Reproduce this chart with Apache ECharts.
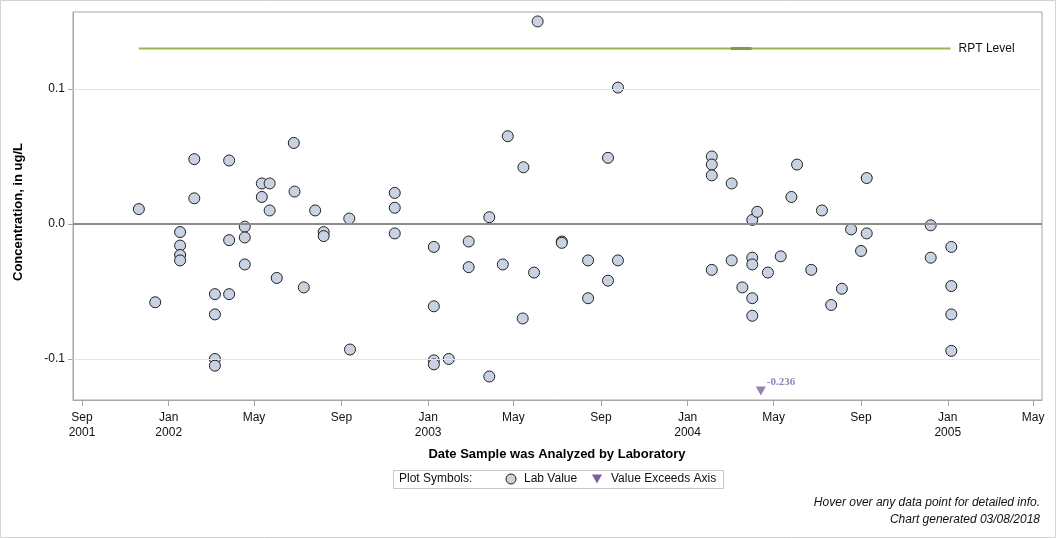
<!DOCTYPE html>
<html>
<head>
<meta charset="UTF-8">
<title>Lab Values</title>
<script src="https://cdn.jsdelivr.net/npm/echarts@6/dist/echarts.min.js"></script>
<style>
  html, body { margin: 0; padding: 0; background: #fff; }
  #chart { width: 1056px; height: 538px; }
</style>
</head>
<body>
<div id="chart"></div>
<script>
// sample dates and lab values (ug/L)
var labDates = [
  '2001-11-20', '2001-12-13',
  '2002-01-17', '2002-01-17', '2002-01-17', '2002-01-17',
  '2002-02-06', '2002-02-06',
  '2002-03-07', '2002-03-07', '2002-03-07', '2002-03-07',
  '2002-03-27', '2002-03-27', '2002-03-27',
  '2002-04-18', '2002-04-18', '2002-04-18',
  '2002-05-12', '2002-05-12', '2002-05-23', '2002-05-23',
  '2002-06-02', '2002-06-26', '2002-06-27', '2002-07-10', '2002-07-26',
  '2002-08-07', '2002-08-07', '2002-09-12', '2002-09-13',
  '2002-11-15', '2002-11-15', '2002-11-15',
  '2003-01-09', '2003-01-09', '2003-01-09', '2003-01-09', '2003-01-30',
  '2003-02-27', '2003-02-27', '2003-03-28', '2003-03-28',
  '2003-04-16', '2003-04-23', '2003-05-14', '2003-05-15', '2003-05-30',
  '2003-06-04', '2003-07-08', '2003-07-08', '2003-08-14', '2003-08-14',
  '2003-09-11', '2003-09-11', '2003-09-25', '2003-09-25',
  '2004-02-04', '2004-02-04', '2004-02-04', '2004-02-04',
  '2004-03-03', '2004-03-03', '2004-03-18',
  '2004-04-01', '2004-04-08', '2004-04-01', '2004-04-01', '2004-04-01', '2004-04-01',
  '2004-04-23', '2004-05-11', '2004-05-26', '2004-06-03', '2004-06-23',
  '2004-07-08', '2004-07-21', '2004-08-05', '2004-08-18', '2004-09-01',
  '2004-09-09', '2004-09-09', '2004-12-08', '2004-12-08',
  '2005-01-06', '2005-01-06', '2005-01-06', '2005-01-06'
];
var labValues = [
  0.011, -0.058,
  -0.006, -0.016, -0.023, -0.027,
  0.048, 0.019,
  -0.052, -0.067, -0.100, -0.105,
  0.047, -0.012, -0.052,
  -0.002, -0.010, -0.030,
  0.030, 0.020, 0.030, 0.010,
  -0.040, 0.060, 0.024, -0.047, 0.010,
  -0.006, -0.009, 0.004, -0.093,
  0.023, 0.012, -0.007,
  -0.017, -0.061, -0.101, -0.104, -0.100,
  -0.013, -0.032, 0.005, -0.113,
  -0.030, 0.065, -0.070, 0.042, -0.036,
  0.150, -0.013, -0.014, -0.027, -0.055,
  0.049, -0.042, 0.101, -0.027,
  0.050, 0.044, 0.036, -0.034,
  0.030, -0.027, -0.047,
  0.003, 0.009, -0.025, -0.030, -0.055, -0.068,
  -0.036, -0.024, 0.020, 0.044, -0.034,
  0.010, -0.060, -0.048, -0.004, -0.020,
  0.034, -0.007, -0.001, -0.025,
  -0.017, -0.046, -0.067, -0.094
];

// values below the axis
var exceedDates = ['2004-04-13'];
var exceedValues = [-0.236];

// reporting level
var rptDates = ['2001-11-20', '2005-01-05'];
var rptOverlapDates = ['2004-03-02', '2004-03-31'];
var rptValue = 0.13;

var xTickDates = ['2001-09-01', '2002-01-01', '2002-05-01', '2002-09-01', '2003-01-01', '2003-05-01',
  '2003-09-01', '2004-01-01', '2004-05-01', '2004-09-01', '2005-01-01', '2005-05-01'];
var yTicks = [-0.1, 0, 0.1];
var monthNames = ['Jan', 'Feb', 'Mar', 'Apr', 'May', 'Jun', 'Jul', 'Aug', 'Sep', 'Oct', 'Nov', 'Dec'];

var yMin = -0.1304, yMax = 0.1570;

function ts(s) { return Date.parse(s); }

var font = "'Liberation Sans', Arial, sans-serif";
var chart = echarts.init(document.getElementById('chart'));

var option = {
  animation: false,
  grid: { left: 73, right: 14, top: 12, bottom: 138, show: true, borderColor: '#a6a6a6', borderWidth: 1 },
  xAxis: {
    type: 'value',
    min: Date.UTC(2001, 7, 19, 8),
    max: Date.UTC(2005, 4, 13, 14),
    splitLine: { show: false },
    axisLine: { onZero: false, lineStyle: { color: '#a6a6a6' } },
    axisTick: { customValues: xTickDates.map(ts), length: 6, lineStyle: { color: '#a6a6a6' } },
    axisLabel: {
      customValues: xTickDates.map(ts),
      color: '#111', fontSize: 12, fontFamily: font, lineHeight: 15, margin: 10,
      formatter: function (v) {
        var d = new Date(v);
        var m = monthNames[d.getUTCMonth()];
        if (m === 'Jan' || v === ts(xTickDates[0])) return m + '\n' + d.getUTCFullYear();
        return m;
      }
    }
  },
  yAxis: {
    type: 'value',
    min: yMin,
    max: yMax,
    splitLine: { show: false },
    axisLine: { show: true, onZero: false, lineStyle: { color: '#a6a6a6' } },
    axisTick: { customValues: yTicks, length: 5, lineStyle: { color: '#a6a6a6' } },
    axisLabel: {
      customValues: yTicks, color: '#111', fontSize: 12, fontFamily: font, margin: 8,
      formatter: function (v) { return v.toFixed(1); }
    }
  },
  series: [
    {
      type: 'line',
      z: 1,
      silent: true,
      symbol: 'none',
      data: rptDates.map(function (d) { return [ts(d), rptValue]; }),
      lineStyle: { color: '#97b653', width: 2 },
      endLabel: { show: true, formatter: 'RPT Level', color: '#111', fontSize: 12, fontFamily: font, distance: 8 },
      markLine: {
        silent: true,
        symbol: 'none',
        label: { show: false },
        data: [
          { yAxis: 0.1, lineStyle: { color: '#e4e4e4', width: 1, type: 'solid' } },
          { yAxis: -0.1, lineStyle: { color: '#e4e4e4', width: 1, type: 'solid' } },
          { yAxis: 0, lineStyle: { color: '#8c8c8c', width: 2, type: 'solid' } }
        ]
      }
    },
    {
      type: 'line',
      z: 2,
      silent: true,
      symbol: 'none',
      data: rptOverlapDates.map(function (d) { return [ts(d), rptValue]; }),
      lineStyle: { color: '#7f9c42', width: 3 }
    },
    {
      name: 'Lab Value',
      type: 'scatter',
      z: 3,
      symbol: 'circle',
      symbolSize: 11,
      data: labDates.map(function (d, i) { return [ts(d), labValues[i]]; }),
      itemStyle: { color: '#c8d2e2', borderColor: '#1f1f1f', borderWidth: 1, opacity: 1 }
    },
    {
      name: 'Value Exceeds Axis',
      type: 'scatter',
      z: 4,
      symbol: 'triangle',
      symbolRotate: 180,
      symbolSize: [10, 9],
      data: exceedDates.map(function (d, i) { return [ts(d), yMin + 0.0067, exceedValues[i]]; }),
      itemStyle: { color: '#7b5fa6' },
      label: {
        show: true,
        position: [11, -4],
        align: 'left',
        verticalAlign: 'middle',
        formatter: function (p) { return p.value[2].toFixed(3); },
        color: '#7b5fa6',
        fontSize: 11,
        fontWeight: 'bold',
        fontFamily: "'Liberation Serif', 'Times New Roman', serif"
      }
    }
  ],
  graphic: [
    { type: 'rect', shape: { x: 0.5, y: 0.5, width: 1055, height: 537 }, style: { fill: 'none', stroke: '#d3d3d3', lineWidth: 1 }, silent: true },
    { type: 'text', x: 18, y: 212, rotation: Math.PI / 2,
      style: { text: 'Concentration, in ug/L', font: 'bold 13px ' + font, fill: '#000', textAlign: 'center', textVerticalAlign: 'middle' } },
    { type: 'text', x: 557, y: 454,
      style: { text: 'Date Sample was Analyzed by Laboratory', font: 'bold 13px ' + font, fill: '#000', textAlign: 'center', textVerticalAlign: 'middle' } },
    { type: 'rect', shape: { x: 393.5, y: 470.5, width: 330, height: 18 }, style: { fill: 'none', stroke: '#c8c8c8', lineWidth: 1 } },
    { type: 'text', x: 399, y: 479, style: { text: 'Plot Symbols:', font: '12px ' + font, fill: '#111', textVerticalAlign: 'middle' } },
    { type: 'circle', shape: { cx: 511, cy: 479, r: 5 }, style: { fill: '#c8d2e2', stroke: '#1f1f1f', lineWidth: 1 } },
    { type: 'text', x: 524, y: 479, style: { text: 'Lab Value', font: '12px ' + font, fill: '#111', textVerticalAlign: 'middle' } },
    { type: 'polygon', shape: { points: [[592, 474.5], [602, 474.5], [597, 483.5]] }, style: { fill: '#7b5fa6' } },
    { type: 'text', x: 611, y: 479, style: { text: 'Value Exceeds Axis', font: '12px ' + font, fill: '#111', textVerticalAlign: 'middle' } },
    { type: 'text', x: 1040, y: 503, style: { text: 'Hover over any data point for detailed info.', font: 'italic 12px ' + font, fill: '#111', textAlign: 'right', textVerticalAlign: 'middle' } },
    { type: 'text', x: 1040, y: 520, style: { text: 'Chart generated 03/08/2018', font: 'italic 12px ' + font, fill: '#111', textAlign: 'right', textVerticalAlign: 'middle' } }
  ]
};

chart.setOption(option);
</script>
</body>
</html>
